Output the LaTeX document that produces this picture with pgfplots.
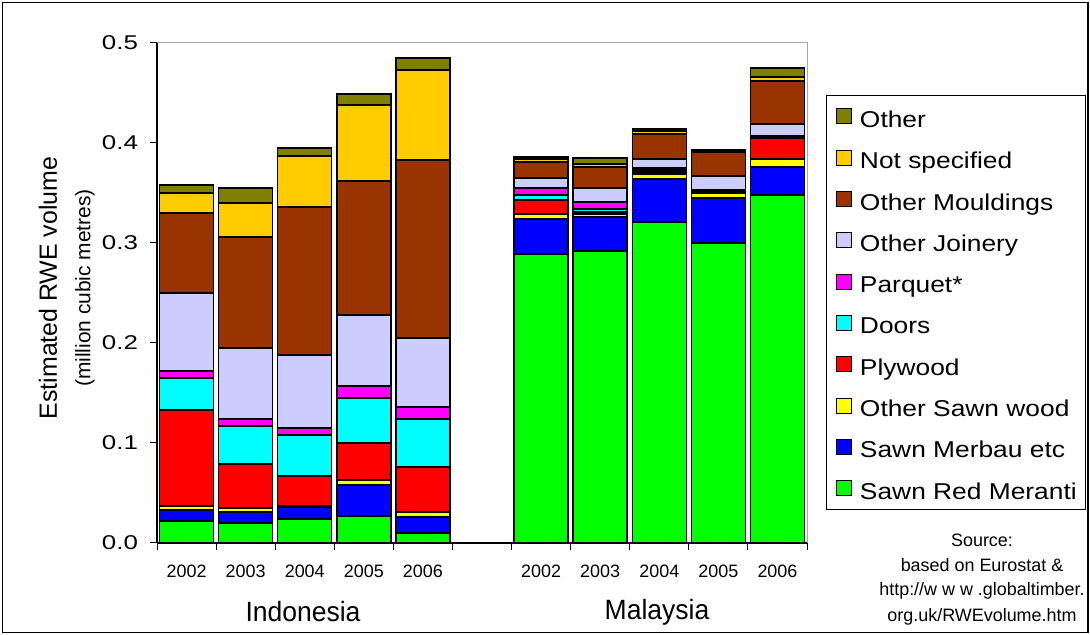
\documentclass[border=0pt]{standalone}
\usepackage{fontspec}
\setmainfont{Liberation Sans}
\newfontfamily\ytfont[FakeStretch=1.3]{Liberation Sans}
\newfontfamily\lgfont[FakeStretch=1.15]{Liberation Sans}
\newfontfamily\grfont[FakeStretch=0.95]{Liberation Sans}
\usepackage{pgfplots}
\pgfplotsset{compat=1.18}
\usepackage{pgfplotstable}

\definecolor{cgreen}{HTML}{00FF00}
\definecolor{cblue}{HTML}{0000FF}
\definecolor{cyell}{HTML}{FFFF00}
\definecolor{cred}{HTML}{FF0000}
\definecolor{ccyan}{HTML}{00FFFF}
\definecolor{cmag}{HTML}{FF00FF}
\definecolor{clav}{HTML}{CCCCFF}
\definecolor{cbrown}{HTML}{993300}
\definecolor{cgold}{HTML}{FFCC00}
\definecolor{colive}{HTML}{808000}

\pgfplotstableread{
x  green blue  yell  red   cyan  mag   lav   brown gold  olive
0  0.022 0.011 0.004 0.096 0.032 0.007 0.078 0.080 0.020 0.008
1  0.020 0.011 0.004 0.044 0.038 0.007 0.071 0.111 0.034 0.015
2  0.024 0.012 0.001 0.030 0.041 0.007 0.073 0.148 0.051 0.008
3  0.027 0.031 0.005 0.037 0.045 0.012 0.071 0.134 0.076 0.011
4  0.010 0.016 0.005 0.045 0.048 0.012 0.069 0.178 0.090 0.012
6  0.289 0.035 0.005 0.014 0.005 0.007 0.010 0.016 0.003 0.002
7  0.292 0.034 0.003 0.002 0.003 0.007 0.014 0.021 0.003 0.006
8  0.321 0.043 0.005 0.002 0.002 0.002 0.009 0.025 0.003 0.002
9  0.300 0.045 0.005 0.001 0.001 0.001 0.014 0.024 0.001 0.001
10 0.348 0.028 0.008 0.021 0.001 0.001 0.012 0.043 0.004 0.009
}\data

\pgfplotsset{
  sq/.style={legend image code/.code={%
    \path[draw=none,fill=none] (0bp,-0.1bp) rectangle (25bp,0.1bp);
    \draw[##1,draw=black,line width=1bp] (6bp,-7.5bp) rectangle (21bp,7.5bp);}},
}

\begin{document}
\begin{tikzpicture}[x=1bp,y=1bp]
\useasboundingbox (0,0) rectangle (1090,635);
\draw[line width=1.2bp] (2.5,2.5) rectangle (1088,632.5);
\begin{axis}[
  at={(157bp,92bp)}, anchor=south west,
  scale only axis, width=650bp, height=500bp,
  xmin=-0.5, xmax=10.5, ymin=0, ymax=0.5,
  ybar stacked, bar width=54bp,
  axis x line*=bottom, axis y line*=left,
  axis line style={-, black, line width=1.3bp},
  tick align=outside, major tick length=7bp,
  tick style={black, line width=1bp},
  xtick={-0.5,0.5,1.5,2.5,3.5,4.5,5.5,6.5,7.5,8.5,9.5,10.5},
  xticklabel=\empty,
  extra x ticks={0,1,2,3,4,6,7,8,9,10},
  extra x tick labels={2002,2003,2004,2005,2006,2002,2003,2004,2005,2006},
  extra x tick style={major tick length=0pt, tick label style={yshift=-18bp, font=\fontsize{18}{22}\selectfont}},
  ytick={0,0.1,0.2,0.3,0.4,0.5},
  yticklabel style={xshift=-8.5bp, font=\ytfont\fontsize{20}{24}\selectfont, /pgf/number format/.cd, fixed, fixed zerofill, precision=1, assume math mode=true},
  reverse legend,
  legend style={at={(1.0292,0.896)}, anchor=north west, draw=black, line width=1bp,
    font=\lgfont\fontsize{23}{27}\selectfont, row sep=15.3bp, inner ysep=8bp, inner xsep=4bp,
    nodes={text height=24bp, text depth=2bp, inner ysep=0bp, inner xsep=4.5bp},
    cells={anchor=west}},
  clip=false,
]
\addplot[fill=cgreen, draw=black, line width=1.5bp, sq] table[x=x,y=green]{\data};
\addplot[fill=cblue, draw=black, line width=1.5bp, sq] table[x=x,y=blue]{\data};
\addplot[fill=cyell, draw=black, line width=1.5bp, sq] table[x=x,y=yell]{\data};
\addplot[fill=cred, draw=black, line width=1.5bp, sq] table[x=x,y=red]{\data};
\addplot[fill=ccyan, draw=black, line width=1.5bp, sq] table[x=x,y=cyan]{\data};
\addplot[fill=cmag, draw=black, line width=1.5bp, sq] table[x=x,y=mag]{\data};
\addplot[fill=clav, draw=black, line width=1.5bp, sq] table[x=x,y=lav]{\data};
\addplot[fill=cbrown, draw=black, line width=1.5bp, sq] table[x=x,y=brown]{\data};
\addplot[fill=cgold, draw=black, line width=1.5bp, sq] table[x=x,y=gold]{\data};
\addplot[fill=colive, draw=black, line width=1.5bp, sq] table[x=x,y=olive]{\data};
\legend{Sawn Red Meranti,Sawn Merbau etc,Other Sawn wood,Plywood,Doors,Parquet*,Other Joinery,Other Mouldings,Not specified,Other}
\draw[gray!70, line width=1bp] (rel axis cs:0,1) -- (rel axis cs:1,1) -- (rel axis cs:1,0);
\end{axis}
\node[rotate=90, font=\fontsize{25}{29}\selectfont] at (48,347) {Estimated RWE volume};
\node[rotate=90, font=\fontsize{21}{25}\selectfont] at (85,347) {(million cubic metres)};
\node[font=\grfont\fontsize{28}{32}\selectfont] at (303,23) {Indonesia};
\node[font=\grfont\fontsize{28}{32}\selectfont] at (657,23) {Malaysia};
\begin{scope}[every node/.style={font=\fontsize{18}{22}\selectfont}]
\node at (982,95) {Source:};
\node at (982,70) {based on Eurostat \&};
\node at (982,44) {http://w w w .globaltimber.};
\node at (982,18) {org.uk/RWEvolume.htm};
\end{scope}
\end{tikzpicture}
\end{document}
